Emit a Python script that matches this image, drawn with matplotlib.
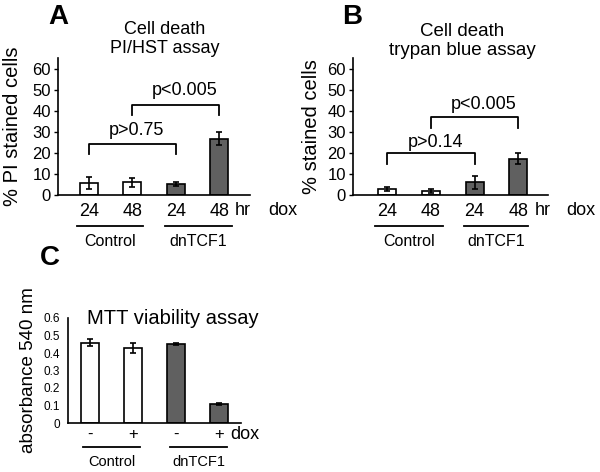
import matplotlib
matplotlib.use("Agg")
import matplotlib.pyplot as plt
import matplotlib.transforms as mtransforms

plt.rcParams['font.family'] = ['Liberation Sans', 'DejaVu Sans']

# panel A: PI/HST assay
a_labels = ['24', '48', '24', '48']
a_vals = [5.8, 6.0, 5.2, 26.8]
a_err = [2.8, 2.0, 1.0, 3.0]

# panel B: trypan blue assay
b_labels = ['24', '48', '24', '48']
b_vals = [2.8, 2.0, 6.0, 17.3]
b_err = [0.8, 1.0, 3.0, 2.5]

# panel C: MTT viability
c_labels = ['-', '+', '-', '+']
c_vals = [0.46, 0.43, 0.452, 0.107]
c_err = [0.02, 0.03, 0.005, 0.005]

colors = ['white', 'white', '#606060', '#606060']
groups = ['Control', 'dnTCF1']

W, H = 600, 472
fig = plt.figure(figsize=(6, 4.72), dpi=100)


def px_axes(l, r, top, bot):
    return fig.add_axes([l / W, (H - bot) / H, (r - l) / W, (bot - top) / H])


def base(ax, vals, err, labels, width, fs):
    x = range(len(vals))
    ax.bar(x, vals, width=width, color=colors, edgecolor='black', linewidth=1.2)
    ax.errorbar(x, vals, yerr=err, fmt='none', ecolor='black', elinewidth=1.2,
                capsize=2.5, capthick=1.2)
    for s in ['top', 'right']:
        ax.spines[s].set_visible(False)
    for s in ['left', 'bottom']:
        ax.spines[s].set_linewidth(1.2)
    ax.set_xticks(list(x))
    ax.set_xticklabels(labels, fontsize=fs)
    ax.tick_params(axis='x', length=0, pad=6)
    ax.tick_params(axis='y', length=3, width=1, pad=2)


def groups_under(ax, spans, ly, ty, fs):
    tr = mtransforms.blended_transform_factory(ax.transData, ax.transAxes)
    for (x0, x1), g in zip(spans, groups):
        ax.plot([x0, x1], [ly, ly], color='black', lw=1.3, transform=tr, clip_on=False)
        ax.text((x0 + x1) / 2, ty, g, transform=tr, ha='center', va='center', fontsize=fs)


def bracket(ax, x0, x1, top, bot, txt, ty, tx):
    ax.plot([x0, x0, x1, x1], [bot, top, top, bot], color='black', lw=1.3)
    ax.text(tx, ty, txt, ha='center', va='center', fontsize=13)


# ---- A ----
axA = px_axes(58, 250, 58, 195)
base(axA, a_vals, a_err, a_labels, 0.41, 13)
axA.set_xlim(-0.71, 3.71)
axA.set_ylim(0, 65)
axA.set_yticks([0, 10, 20, 30, 40, 50, 60])
axA.tick_params(axis='y', labelsize=12)
axA.set_ylabel('% PI stained cells', fontsize=14.5)
axA.yaxis.set_label_coords(-36 / 192, 0.5)
trA = mtransforms.blended_transform_factory(axA.transData, axA.transAxes)
axA.text(3.55, -0.11, 'hr', transform=trA, ha='center', va='center', fontsize=13)
axA.text(4.47, -0.11, 'dox', transform=trA, ha='center', va='center', fontsize=13, clip_on=False)
groups_under(axA, [(-0.28, 1.24), (1.75, 3.29)], -0.226, -0.336, 11.5)
bracket(axA, 0, 2, 24.3, 19.5, 'p>0.75', 30.5, 1.1)
bracket(axA, 1, 3, 42.9, 38.0, 'p<0.005', 49.5, 2.2)
fig.text(165 / W, 1 - 39 / H, 'Cell death\nPI/HST assay', ha='center', va='center',
         fontsize=13, linespacing=1.1)
fig.text(58 / W, 1 - 17 / H, 'A', ha='center', va='center', fontsize=20, fontweight='bold')

# ---- B ----
axB = px_axes(353, 548, 58, 195)
base(axB, b_vals, b_err, b_labels, 0.41, 13)
axB.set_xlim(-0.78, 3.68)
axB.set_ylim(0, 65)
axB.set_yticks([0, 10, 20, 30, 40, 50, 60])
axB.tick_params(axis='y', labelsize=12)
axB.set_ylabel('% stained cells', fontsize=14.5)
axB.yaxis.set_label_coords(-32 / 195, 0.5)
trB = mtransforms.blended_transform_factory(axB.transData, axB.transAxes)
axB.text(3.57, -0.11, 'hr', transform=trB, ha='center', va='center', fontsize=13)
axB.text(4.42, -0.11, 'dox', transform=trB, ha='center', va='center', fontsize=13, clip_on=False)
groups_under(axB, [(-0.28, 1.27), (1.75, 3.23)], -0.226, -0.336, 11.5)
bracket(axB, 0, 2, 19.8, 14.6, 'p>0.14', 25.0, 1.1)
bracket(axB, 1, 3, 36.8, 32.0, 'p<0.005', 43.0, 2.2)
fig.text(462 / W, 1 - 41 / H, 'Cell death\ntrypan blue assay', ha='center', va='center',
         fontsize=13.5, linespacing=1.1)
fig.text(352 / W, 1 - 17 / H, 'B', ha='center', va='center', fontsize=20, fontweight='bold')

# ---- C ----
axC = px_axes(68, 241, 318, 423)
base(axC, c_vals, c_err, c_labels, 0.42, 12)
axC.set_xlim(-0.51, 3.51)
axC.set_ylim(0, 0.6)
axC.set_yticks([0, 0.1, 0.2, 0.3, 0.4, 0.5, 0.6])
axC.set_yticklabels(['0', '0.1', '0.2', '0.3', '0.4', '0.5', '0.6'])
axC.tick_params(axis='y', labelsize=8.5, length=0, pad=6)
axC.tick_params(axis='x', pad=3)
axC.set_ylabel('absorbance 540 nm', fontsize=13.5)
axC.yaxis.set_label_coords(-31 / 173, 0.5)
trC = mtransforms.blended_transform_factory(axC.transData, axC.transAxes)
axC.text(3.6, -0.114, 'dox', transform=trC, ha='center', va='center', fontsize=13, clip_on=False)
groups_under(axC, [(-0.16, 1.16), (1.86, 3.19)], -0.229, -0.371, 10.5)
axC.text((173 - 68) / 173, 1.0, 'MTT viability assay', transform=axC.transAxes,
         ha='center', va='center', fontsize=14.5)

fig.text(50 / W, 1 - 258 / H, 'C', ha='center', va='center', fontsize=20, fontweight='bold')

fig.savefig('out.png', dpi=100)
